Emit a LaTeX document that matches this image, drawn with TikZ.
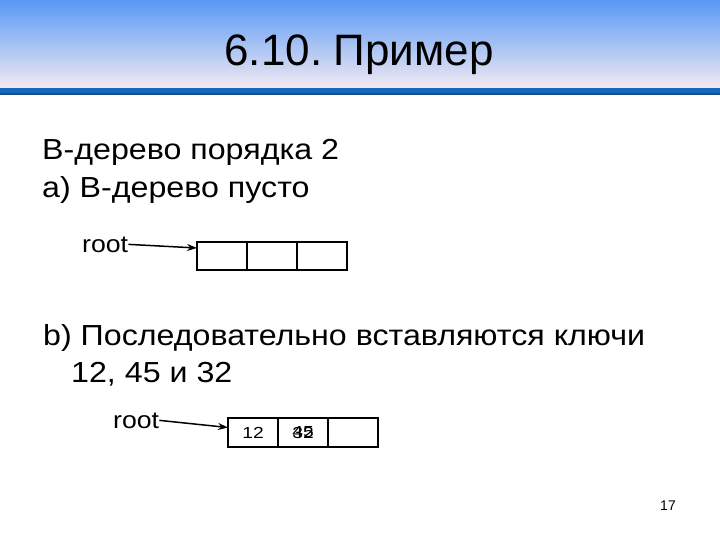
\documentclass[tikz,border=0pt]{standalone}
\usepackage{fontspec}
\setmainfont{Liberation Sans}
\newfontfamily\widefont[FakeStretch=1.11]{Liberation Sans}
\newfontfamily\keyfont[FakeStretch=1.2]{Liberation Sans}
\usetikzlibrary{arrows.meta,positioning}
\definecolor{headtop}{RGB}{88,152,245}
\definecolor{headmid}{RGB}{165,198,240}
\definecolor{headbot}{RGB}{242,234,242}
\definecolor{barblue}{RGB}{22,104,186}
\definecolor{bardark}{RGB}{24,78,140}

\begin{document}
\begin{tikzpicture}[x=1pt,y=-1pt,
    cell/.style={draw,line width=1.4pt,minimum width=50pt,minimum height=28pt,
      inner sep=0pt,outer sep=0pt},
    keytext/.style={inner sep=0pt,font=\keyfont\fontsize{16}{18}\selectfont},
    ptr/.style={line width=1.5pt,-{Stealth[length=10pt,width=7pt]}},
    body/.style={anchor=base west,inner sep=0pt,font=\widefont\fontsize{29}{34}\selectfont},
    rootlbl/.style={anchor=base west,inner sep=0pt,font=\widefont\fontsize{24}{28}\selectfont}]

  \useasboundingbox (0,0) rectangle (720,540);
  \fill[white] (0,0) rectangle (720,540);

  % header
  \shade[top color=headtop,middle color=headmid,bottom color=headbot] (0,0) rectangle (720,88);
  \fill[barblue] (0,88) rectangle (720,95);
  \fill[bardark] (0,93) rectangle (720,95);
  \node[anchor=base,inner sep=0pt,font=\fontsize{44}{50}\selectfont] (title) at (359,66) {6.10.\hspace{-5pt} Пример};

  % text
  \node[body] (line1) at (42,160) {B-дерево порядка 2};
  \node[body] (line2) at (42,198) {a) B-дерево пусто};
  \node[body] (line3) at (43,345) {b) Последовательно вставляются ключи};
  \node[body] (line4) at (71,382) {12, 45 и 32};

  % a) empty tree
  \node[rootlbl] (rootA) at (82,252) {root};
  \node[cell] (e1) at (222,256) {};
  \node[cell,right=0pt of e1] (e2) {};
  \node[cell,right=0pt of e2] (e3) {};
  \draw[ptr] (rootA.east) -- ([yshift=8pt]e1.west);

  % b) keys inserted
  \node[rootlbl] (rootB) at (113,428) {root};
  \node[cell,minimum height=29pt] (k1) at (253,432.5) {};
  \node[cell,minimum height=29pt,right=0pt of k1] (k2) {};
  \node[cell,minimum height=29pt,right=0pt of k2] (k3) {};
  \node[keytext] (key12) at (k1) {12};
  \node[keytext] (key45) at (k2) {45};
  \node[keytext] (key32) at (k2) {32};
  \draw[ptr] (rootB.east) -- ([yshift=5pt]k1.west);

  \node[anchor=base,inner sep=0pt,font=\fontsize{14}{16}\selectfont] (pagenum) at (668,510) {17};
\end{tikzpicture}
\end{document}
